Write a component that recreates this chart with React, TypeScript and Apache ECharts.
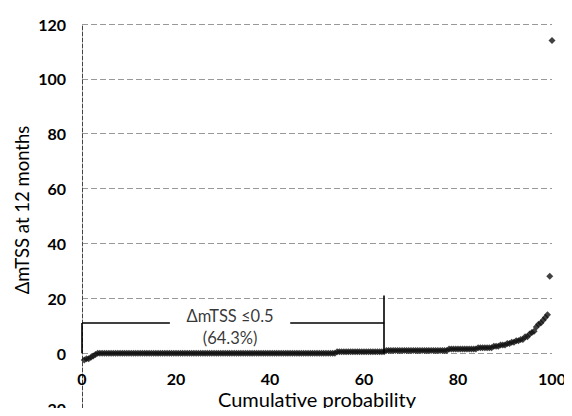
import React, { useEffect, useRef } from "react";
import * as echarts from "echarts";

// ΔmTSS at 12 months, sorted ascending; each entry is [value, number of patients]
const changeGroups: [number, number][] = [
  [-2.5, 1], [-2, 2], [-1.5, 1], [-1, 1], [-0.5, 1],
  [0, 107],
  [0.5, 22],
  [1, 28],
  [1.5, 13],
  [2, 7],
  [2.5, 3],
  [3, 3],
  [3.5, 2],
  [4, 2],
  [4.5, 2],
  [5, 2],
  [6, 2],
  [7, 1], [7.5, 1], [8, 1], [9.5, 1], [10.5, 1], [11, 1], [12, 1], [13, 1], [14, 1],
  [28, 1],
  [114, 1],
];

const xTicks = [0, 20, 40, 60, 80, 100];
const yTicks = [-20, 0, 20, 40, 60, 80, 100, 120];

const xTitle = "Cumulative probability";
const yTitle = "ΔmTSS at 12 months";

// bracket marking the share of patients with ΔmTSS ≤ 0.5
const thresholdPct = 64.3;
const bracketLevel = 11;
const bracketTop = 21;
const bracketGap: [number, number] = [18.7, 44.3];
const bracketText = ["ΔmTSS ≤0.5", "(64.3%)"];

const FONT = "Lato, 'Open Sans', sans-serif";

function cumulativePoints(groups: [number, number][]): [number, number][] {
  const values: number[] = [];
  groups.forEach(([v, c]) => {
    for (let k = 0; k < c; k++) values.push(v);
  });
  const n = values.length;
  return values.map((v, i) => [((i + 1) / n) * 100, v]);
}

export default function App() {
  const ref = useRef<HTMLDivElement>(null);

  useEffect(() => {
    if (!ref.current) return;
    const chart = echarts.init(ref.current, undefined, { renderer: "svg" });
    const points = cumulativePoints(changeGroups);
    const lineStyle = { color: "#000", width: 1.6, type: "solid" as const };

    const gridLeft = 82;
    const gridRight = 20;

    chart.setOption({
      animation: false,
      backgroundColor: "#fff",
      grid: {
        left: gridLeft,
        right: gridRight,
        top: 24,
        bottom: 8,
        containLabel: false,
        outerBoundsMode: "none",
      },
      xAxis: {
        type: "value",
        position: "bottom",
        min: xTicks[0],
        max: xTicks[xTicks.length - 1],
        interval: 20,
        axisLine: { show: false, onZero: false },
        axisTick: { show: false },
        splitLine: { show: false },
        axisLabel: {
          margin: -36,
          color: "#000",
          fontFamily: FONT,
          fontSize: 16,
          lineHeight: 12,
          fontWeight: "bold",
        },
      },
      yAxis: {
        type: "value",
        min: yTicks[0],
        max: yTicks[yTicks.length - 1],
        interval: 20,
        axisLine: { show: true, lineStyle: { color: "#444", width: 1, type: "dashed" } },
        axisTick: { show: false },
        splitLine: { show: true, lineStyle: { color: "#999", width: 1, type: [6, 3] } },
        axisLabel: {
          margin: 16,
          color: "#000",
          fontFamily: FONT,
          fontSize: 16,
          lineHeight: 12,
          fontWeight: "bold",
        },
      },
      graphic: [
        {
          type: "text",
          x: gridLeft + (572 - gridLeft - gridRight) / 2,
          y: 399,
          style: {
            text: xTitle,
            fill: "#000",
            font: `20px ${FONT}`,
            lineHeight: 18,
            textAlign: "center",
            textVerticalAlign: "middle",
          },
        },
        {
          type: "text",
          x: 22,
          y: 210,
          rotation: Math.PI / 2,
          style: {
            text: yTitle,
            fill: "#000",
            font: `18.5px ${FONT}`,
            textAlign: "center",
            textVerticalAlign: "middle",
          },
        },
      ],
      series: [
        {
          type: "scatter",
          data: points,
          symbol: "diamond",
          symbolSize: 7,
          itemStyle: { color: "#111" },
          z: 3,
        },
        {
          type: "scatter",
          data: [[(bracketGap[0] + bracketGap[1]) / 2, bracketLevel]],
          symbolSize: 0,
          silent: true,
          label: {
            show: true,
            position: "inside",
            offset: [0, 4],
            formatter: bracketText.join("\n"),
            color: "#000",
            fontFamily: FONT,
            fontSize: 16.5,
            lineHeight: 22,
          },
          markLine: {
            silent: true,
            symbol: "none",
            label: { show: false },
            lineStyle,
            data: [
              [{ coord: [0, 0] }, { coord: [0, bracketLevel] }],
              [{ coord: [0, bracketLevel] }, { coord: [bracketGap[0], bracketLevel] }],
              [{ coord: [bracketGap[1], bracketLevel] }, { coord: [thresholdPct, bracketLevel] }],
              [{ coord: [thresholdPct, 0] }, { coord: [thresholdPct, bracketTop] }],
            ],
          },
        },
      ],
    });

    return () => chart.dispose();
  }, []);

  return <div ref={ref} style={{ width: 572, height: 416, margin: -8 }} />;
}
